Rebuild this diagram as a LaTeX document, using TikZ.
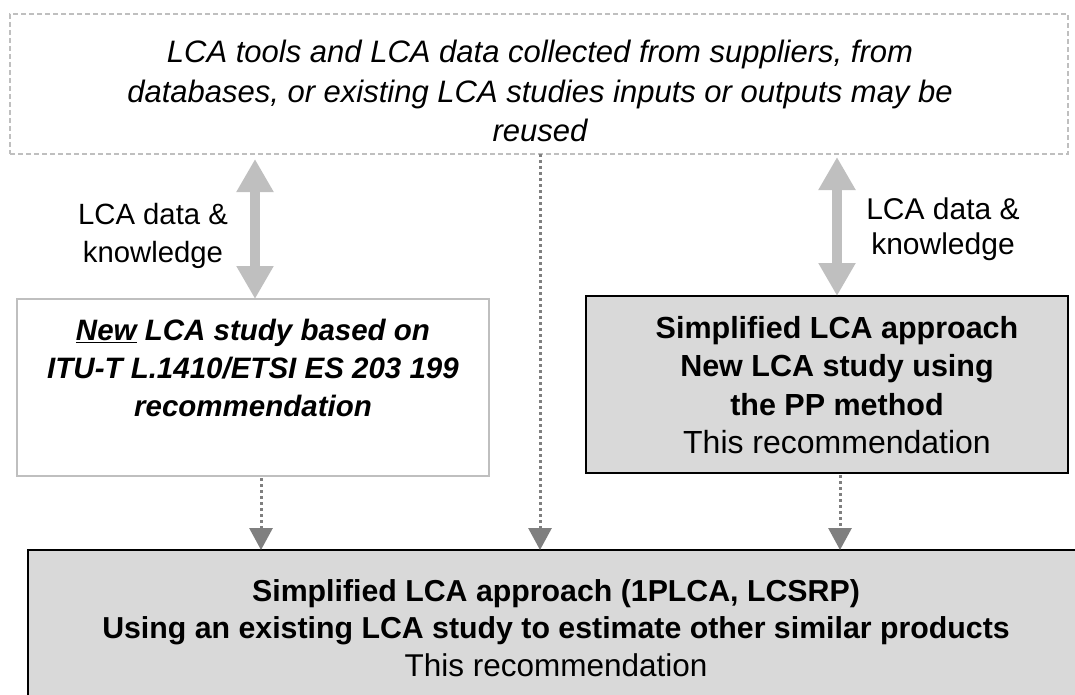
\documentclass[tikz,border=0pt]{standalone}
\usepackage{fontspec}
\setmainfont{Liberation Sans}
\usetikzlibrary{arrows.meta}
\definecolor{boxgray}{HTML}{D9D9D9}
\definecolor{lightline}{HTML}{BFBFBF}
\definecolor{darkarrow}{HTML}{7F7F7F}
\begin{document}
\begin{tikzpicture}[x=1pt,y=-1pt,
  every node/.style={inner sep=0pt, outer sep=0pt},
  frame/.style={draw, rectangle, anchor=north west},
  txt/.style={align=center, text=black},
  dblarrow/.style={line width=10pt, lightline, {Triangle[width=35pt,length=33pt]}-{Triangle[width=35pt,length=33pt]}},
  dotarrow/.style={line width=3pt, darkarrow, dash pattern=on 3pt off 3pt, -{Triangle[width=23pt,length=22pt]}}
]
\useasboundingbox (0,0) rectangle (1075,695);
% boxes
\node[frame, draw=lightline, line width=1.5pt, dash pattern=on 5pt off 3pt, minimum width=1058pt, minimum height=140pt] (topbox) at (10,14) {};
\node[frame, draw=lightline, line width=2pt, fill=white, minimum width=472pt, minimum height=177pt] (leftbox) at (17,299) {};
\node[frame, draw=black, line width=2pt, fill=boxgray, minimum width=482pt, minimum height=177pt] (rightbox) at (586,296) {};
\node[frame, draw=black, line width=2pt, fill=boxgray, minimum width=1056pt, minimum height=156pt] (bottombox) at (28,550) {};
% texts
\node[txt, font=\fontsize{31}{39.5}\selectfont\itshape] (toptext) at (540,91)
  {LCA tools and LCA data collected from suppliers, from\\databases, or existing LCA studies inputs or outputs may be\\reused};
\node[txt, font=\fontsize{29.5}{38}\selectfont\bfseries\itshape] (lefttext) at (253,368)
  {\underline{New} LCA study based on\\ITU-T L.1410/ETSI ES 203 199\\recommendation};
\node[txt, font=\fontsize{30.5}{38.5}\selectfont] (righttext) at (837,385)
  {\textbf{Simplified LCA approach}\\\textbf{New LCA study using}\\\textbf{the PP method}\\\fontsize{32}{38.5}\selectfont This recommendation};
\node[txt, font=\fontsize{30.3}{37.5}\selectfont] (bottomtext) at (556,628)
  {\textbf{Simplified LCA approach (1PLCA, LCSRP)}\\\textbf{Using an existing LCA study to estimate other similar products}\\\fontsize{31.5}{37.5}\selectfont This recommendation};
\node[txt, font=\fontsize{29.3}{38}\selectfont] (leftlabel) at (153,236) {LCA data \&\\knowledge};
\node[txt, font=\fontsize{30}{35}\selectfont] (rightlabel) at (943,229) {LCA data \&\\knowledge};
% connector anchor points
\coordinate (la) at ([xshift=2pt]leftbox.north);
\coordinate (ra) at ([xshift=10pt]rightbox.north);
\coordinate (ld) at ([xshift=8pt]leftbox.south);
\coordinate (rd) at ([xshift=13pt]rightbox.south);
% double arrows
\draw[dblarrow, shorten <=5pt] (topbox.south -| la) -- (la);
\draw[dblarrow, shorten <=3pt] (topbox.south -| ra) -- (ra);
% dotted arrows
\draw[dotarrow, shorten <=2pt] (ld) -- (bottombox.north -| ld);
\draw[dotarrow] (topbox.south -| 540,0) -- (bottombox.north -| 540,0);
\draw[dotarrow, shorten <=2pt] (rd) -- (bottombox.north -| rd);
\end{tikzpicture}
\end{document}
